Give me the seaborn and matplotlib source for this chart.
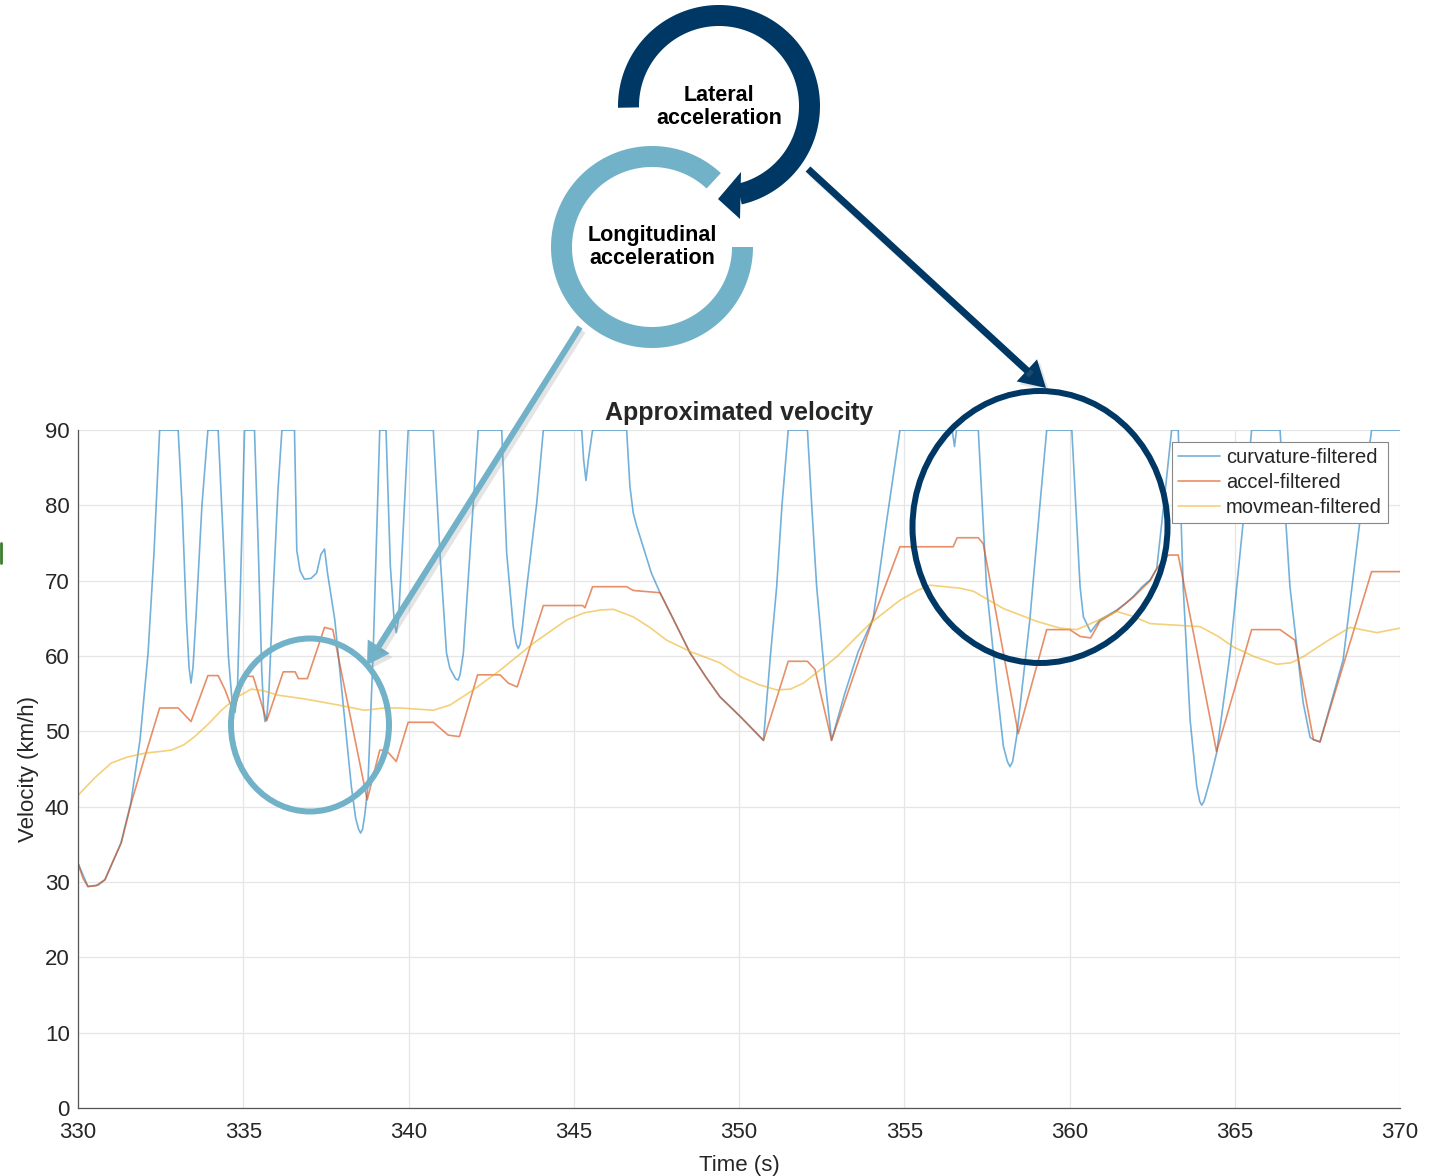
import numpy as np
import pandas as pd
import matplotlib
matplotlib.use("Agg")
import matplotlib.pyplot as plt
from matplotlib.patches import Polygon, Ellipse
import seaborn as sns

# curvature-filtered velocity (km/h) vs time (s)
curv_t = [330.00, 330.30, 330.61, 330.82, 331.30, 331.60, 331.88, 332.12, 332.30, 332.47,
          333.03, 333.15, 333.28, 333.36, 333.42, 333.48, 333.58, 333.75, 333.93,
          334.24, 334.40, 334.55, 334.68, 334.75, 334.82, 334.92, 335.04,
          335.34, 335.45, 335.56, 335.62, 335.66, 335.71, 335.78, 335.90, 336.05, 336.17,
          336.55, 336.62, 336.72, 336.85, 337.05, 337.22, 337.35, 337.46, 337.55, 337.77,
          338.07, 338.27, 338.40, 338.49, 338.55, 338.61, 338.68, 338.77, 338.93, 339.13,
          339.32, 339.45, 339.57, 339.63, 339.70, 339.82, 339.99,
          340.75, 340.95, 341.15, 341.25, 341.42, 341.50, 341.56, 341.66, 341.86, 342.11,
          342.82, 342.97, 343.17, 343.26, 343.32, 343.38, 343.45, 343.58, 343.88, 344.08,
          345.24, 345.30, 345.37, 345.44, 345.57,
          346.60, 346.70, 346.80, 346.90, 347.10, 347.35, 347.61, 348.00, 348.52, 349.00,
          349.42, 350.03, 350.43, 350.74, 350.95, 351.14, 351.30, 351.49,
          352.07, 352.20, 352.35, 352.60, 352.80, 353.20, 353.60, 354.06, 354.47, 354.87,
          356.45, 356.52, 356.58, 357.24, 357.49, 357.80, 358.00, 358.12, 358.20, 358.28,
          358.40, 358.80, 359.11, 359.31, 360.07, 360.32, 360.42, 360.64, 360.92, 361.20,
          361.43, 361.70, 361.93, 362.20, 362.44, 362.64, 362.85, 363.09, 363.29, 363.44,
          363.65, 363.85, 363.94, 364.00, 364.07, 364.25, 364.45, 364.86, 365.26, 365.51,
          366.37, 366.67, 367.07, 367.28, 367.38, 367.58, 368.28, 368.79, 369.14, 370.00]
curv_v = [32.5, 29.4, 29.6, 30.3, 35.2, 40.5, 49.0, 60.4, 73.7, 90.0,
          90.0, 80.0, 65.0, 58.5, 56.4, 58.5, 66.0, 80.0, 90.0,
          90.0, 75.0, 60.0, 53.0, 52.5, 55.0, 70.0, 90.0,
          90.0, 75.0, 58.0, 52.6, 51.3, 51.8, 55.5, 68.0, 82.0, 90.0,
          90.0, 74.0, 71.3, 70.2, 70.3, 71.0, 73.5, 74.2, 71.0, 64.8,
          51.5, 42.7, 38.5, 37.0, 36.5, 37.0, 39.0, 42.7, 60.4, 90.0,
          90.0, 72.0, 64.5, 63.1, 65.0, 75.0, 90.0,
          90.0, 73.7, 60.4, 58.4, 57.0, 56.8, 57.5, 60.4, 73.7, 90.0,
          90.0, 73.7, 63.9, 61.6, 61.0, 61.6, 64.0, 69.2, 80.3, 90.0,
          90.0, 86.0, 83.3, 86.0, 90.0,
          90.0, 82.5, 79.0, 77.3, 74.5, 71.0, 68.4, 65.0, 60.4, 57.2,
          54.6, 52.0, 50.2, 48.8, 60.0, 69.2, 80.0, 90.0,
          90.0, 80.0, 69.2, 57.0, 48.8, 55.0, 60.5, 65.0, 78.0, 90.0,
          90.0, 87.8, 90.0, 90.0, 69.2, 55.9, 48.0, 46.0, 45.3, 46.0,
          49.3, 64.8, 80.3, 90.0, 90.0, 69.2, 65.2, 63.2, 64.8, 65.5,
          66.1, 67.0, 67.9, 69.2, 70.1, 71.6, 80.0, 90.0, 90.0, 69.2,
          51.5, 42.7, 40.7, 40.2, 40.7, 43.5, 47.1, 60.4, 78.0, 90.0,
          90.0, 69.2, 53.8, 49.2, 48.9, 48.6, 59.5, 78.0, 90.0, 90.0]

# accel-filtered
acc_t = [330.00, 330.15, 330.30, 330.55, 330.81, 331.31, 331.61, 332.02, 332.47,
         333.03, 333.42, 333.93, 334.24, 334.45, 334.70, 335.04, 335.30, 335.71, 336.21,
         336.57, 336.67, 336.94, 337.46, 337.71, 338.75, 339.13, 339.32, 339.63, 339.99,
         340.75, 341.20, 341.54, 342.09, 342.77, 343.02, 343.29, 344.08, 345.27, 345.34,
         345.57, 346.60, 346.80, 347.61, 348.00, 348.52, 349.00, 349.42, 350.03, 350.43,
         350.74, 351.49, 352.07, 352.30, 352.80, 354.06, 354.87, 356.48, 356.60, 357.24,
         357.39, 358.45, 359.31, 360.01, 360.32, 360.64, 360.92, 361.43, 361.93, 362.44,
         362.64, 362.99, 363.29, 364.45, 365.51, 366.37, 366.82, 367.38, 367.58, 369.14,
         370.00]
acc_v = [32.5, 30.5, 29.4, 29.5, 30.3, 35.2, 40.5, 46.6, 53.1,
         53.1, 51.3, 57.4, 57.4, 55.5, 52.6, 57.3, 57.3, 51.4, 57.9,
         57.9, 57.0, 57.0, 63.8, 63.5, 40.9, 47.5, 47.5, 46.0, 51.2,
         51.2, 49.5, 49.3, 57.5, 57.5, 56.4, 55.9, 66.7, 66.7, 66.4,
         69.2, 69.2, 68.7, 68.4, 65.0, 60.4, 57.2, 54.6, 52.0, 50.2,
         48.8, 59.3, 59.3, 58.2, 48.8, 65.0, 74.5, 74.5, 75.7, 75.7,
         74.9, 49.7, 63.5, 63.5, 62.6, 62.4, 64.6, 66.0, 67.8, 70.0,
         71.6, 73.4, 73.4, 47.3, 63.5, 63.5, 62.1, 48.9, 48.6, 71.2,
         71.2]

# movmean-filtered
mov_t = [330.00, 330.50, 331.01, 331.50, 332.02, 332.82, 333.20, 333.53, 333.95, 334.34,
         334.80, 335.24, 335.60, 336.05, 336.86, 337.87, 338.67, 339.28, 339.74, 340.75,
         341.26, 341.96, 342.77, 343.78, 344.79, 345.30, 345.79, 346.20, 346.80, 347.30,
         347.81, 348.52, 349.42, 350.03, 350.60, 351.14, 351.55, 351.95, 352.96, 353.96,
         354.87, 355.40, 355.78, 356.69, 357.09, 358.00, 359.01, 359.71, 360.22, 360.80,
         361.43, 361.90, 362.44, 363.95, 364.50, 364.96, 365.60, 366.27, 366.70, 367.07,
         367.80, 368.49, 369.30, 370.00]
mov_v = [41.5, 43.8, 45.8, 46.6, 47.1, 47.5, 48.2, 49.3, 51.0, 52.8,
         54.5, 55.6, 55.4, 54.8, 54.3, 53.5, 52.8, 53.1, 53.1, 52.8,
         53.5, 55.5, 58.1, 61.7, 64.8, 65.7, 66.1, 66.2, 65.2, 63.8,
         62.1, 60.6, 59.1, 57.3, 56.2, 55.5, 55.6, 56.4, 59.9, 64.3,
         67.4, 68.7, 69.4, 69.0, 68.6, 66.3, 64.6, 63.7, 63.5, 64.6,
         65.9, 65.3, 64.3, 63.9, 62.6, 61.2, 59.9, 58.9, 59.1, 59.9,
         62.0, 63.8, 63.1, 63.7]

x_ticks = list(range(330, 371, 5))
y_ticks = list(range(0, 91, 10))

BLUE, ORANGE, YELLOW = "#0072BD", "#D95319", "#EDB120"
NAVY, LIGHT = "#003865", "#72B2C9"

sns.set_theme(style="whitegrid")
plt.rcParams["font.family"] = ["Liberation Sans", "DejaVu Sans"]

W, H = 1442, 1176
fig = plt.figure(figsize=(W / 100, H / 100), dpi=100)
ax = fig.add_axes([78 / W, 1 - 1108 / H, (1400 - 78) / W, (1108 - 430) / H])

sns.lineplot(x=curv_t, y=curv_v, ax=ax, color=BLUE, alpha=0.55, lw=1.2,
             estimator=None, sort=False, label="curvature-filtered")
sns.lineplot(x=acc_t, y=acc_v, ax=ax, color=ORANGE, alpha=0.65, lw=1.2,
             estimator=None, sort=False, label="accel-filtered")
sns.lineplot(x=mov_t, y=mov_v, ax=ax, color=YELLOW, alpha=0.6, lw=1.2,
             estimator=None, sort=False, label="movmean-filtered")

ax.set_xlim(330, 370)
ax.set_ylim(0, 90)
ax.set_xticks(x_ticks)
ax.set_yticks(y_ticks)
ax.grid(True, color="#e6e6e6", lw=0.9)
for s in ["top", "right"]:
    ax.spines[s].set_visible(False)
for s in ["left", "bottom"]:
    ax.spines[s].set_color("#555555")
    ax.spines[s].set_linewidth(0.9)
ax.tick_params(direction="in", length=8, width=0.8, color="#555555",
               labelcolor="#262626", labelsize=16)
ax.tick_params(axis="x", pad=10)
ax.tick_params(axis="y", pad=6)
ax.set_xlabel("Time (s)", fontsize=16, color="#262626", labelpad=9)
ax.set_ylabel("Velocity (km/h)", fontsize=16, color="#262626", labelpad=4)
ax.set_title("Approximated velocity", fontsize=18, fontweight="bold", pad=7)

leg = ax.legend(loc="upper right", bbox_to_anchor=(1 - 12 / 1322, 1 - 12 / 678),
                borderaxespad=0, fontsize=14.5, frameon=True, fancybox=False,
                framealpha=1, edgecolor="#888888", handlelength=2.1,
                handletextpad=0.3, labelspacing=0.3, borderpad=0.3)
leg.get_frame().set_linewidth(0.8)

# overlay in pixel coordinates for the annotation graphics
ov = fig.add_axes([0, 0, 1, 1], zorder=5)
ov.set_xlim(0, W)
ov.set_ylim(H, 0)
ov.axis("off")
ov.patch.set_alpha(0)


def ring(cx, cy, r_out, r_in, a0, a1, n=200):
    a = np.radians(np.linspace(a0, a1, n))
    xo = cx + r_out * np.cos(a)
    yo = cy - r_out * np.sin(a)
    xi = cx + r_in * np.cos(a[::-1])
    yi = cy - r_in * np.sin(a[::-1])
    return np.column_stack([np.r_[xo, xi], np.r_[yo, yi]])


def arrow(p0, p1, color, lw_px, head_len, head_half, alpha=1.0):
    p0, p1 = np.array(p0, float), np.array(p1, float)
    d = (p1 - p0) / np.linalg.norm(p1 - p0)
    n = np.array([-d[1], d[0]])
    base = p1 - d * head_len
    ov.plot([p0[0], base[0] + d[0] * 2], [p0[1], base[1] + d[1] * 2], color=color,
            lw=lw_px * 0.72, solid_capstyle="butt", alpha=alpha)
    ov.add_patch(Polygon([p1, base + n * head_half, base - n * head_half],
                         closed=True, color=color, lw=0, alpha=alpha))


# shadows
arrow((811, 173), (1049, 391), "#888888", 7, 26, 15, alpha=0.22)
arrow((583, 331), (370, 669), "#888888", 6, 22, 13, alpha=0.22)

# light ring (longitudinal)
ov.add_patch(Polygon(ring(652, 247, 101, 80, 47, 360), closed=True, color=LIGHT, lw=0))
ov.text(652, 247, "Longitudinal\nacceleration", ha="center", va="center",
        fontsize=15.5, fontweight="bold", linespacing=1.1, color="black")

# navy ring (lateral) with arrow head
ov.add_patch(Polygon(ring(719, 106, 101, 80, -77, 181), closed=True, color=NAVY, lw=0))
ov.add_patch(Polygon([(718, 199), (741, 172), (740, 219)], closed=True, color=NAVY, lw=0))
ov.text(719, 107, "Lateral\nacceleration", ha="center", va="center",
        fontsize=15.5, fontweight="bold", linespacing=1.1, color="black")

# arrows and circles
arrow((808, 169), (1046, 388), NAVY, 7, 26, 15)
arrow((580, 327), (367, 665), LIGHT, 6, 22, 13)
ov.add_patch(Ellipse((310, 725), 158, 173, fill=False, ec=LIGHT, lw=6 * 0.72))
ov.add_patch(Ellipse((1040, 527), 255, 272, fill=False, ec=NAVY, lw=6 * 0.72))
ov.plot([1.2, 1.2], [543, 563], color="#3a7d2c", lw=2)

fig.savefig("out.png", dpi=100)
